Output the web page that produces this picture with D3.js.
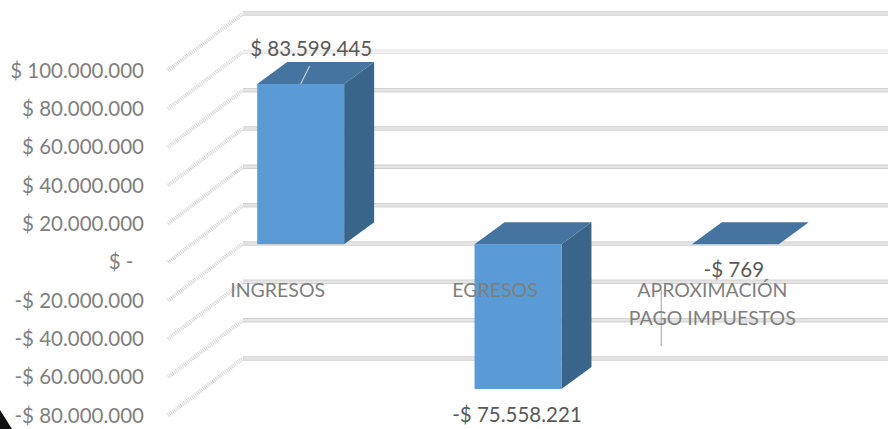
<!DOCTYPE html>
<html>
<head>
<meta charset="utf-8">
<script src="https://cdn.jsdelivr.net/npm/d3@7"></script>
<style>
    html, body { margin: 0; padding: 0; background: #fff; overflow: hidden; }
    text { font-family: Lato, "Open Sans", sans-serif; white-space: pre; }
</style>
</head>
<body>
<div class="chart"></div>
<script>
const width = 888;
const height = 429;

// Values
const categories = ["INGRESOS", "EGRESOS", "APROXIMACIÓN PAGO IMPUESTOS"];
const categoryLines = [["INGRESOS"], ["EGRESOS"], ["APROXIMACIÓN", "PAGO IMPUESTOS"]];
const values = [83599445, -75558221, -769];
const valueLabels = ["$ 83.599.445", "-$ 75.558.221", "-$ 769"];
const tickValues = [100000000, 80000000, 60000000, 40000000, 20000000, 0, -20000000, -40000000, -60000000, -80000000];
const tickLabels = ["$ 100.000.000", "$ 80.000.000", "$ 60.000.000", "$ 40.000.000", "$ 20.000.000", "$ -  ",
    "-$ 20.000.000", "-$ 40.000.000", "-$ 60.000.000", "-$ 80.000.000"];

// Fake 3D: the scale maps onto the back wall, everything else is shifted from there
const wallLeft = 243;
const floorDx = -75;
const floorDy = 57;
const barFrontDy = 39;
const barDepthX = 30;
const barDepthY = 22;

const svg = d3.select(".chart").append("svg")
    .attr("width", width)
    .attr("height", height)
    .style("display", "block");

// Scales
const yScale = d3.scaleLinear()
    .domain([-80000000, 100000000])
    .range([358.5, 13.5]);

const xScale = d3.scaleBand()
    .domain(categories)
    .range([192, 844])
    .paddingInner(0.6)
    .paddingOuter(0.3);

// Gridlines on the wall
const grid = svg.append("g");
grid.selectAll("line.grid-edge")
    .data(tickValues)
    .enter()
    .append("line")
    .attr("class", "grid-edge")
    .attr("x1", wallLeft)
    .attr("x2", width)
    .attr("y1", d => yScale(d))
    .attr("y2", d => yScale(d))
    .attr("stroke", (d, i) => i === 1 ? "#e6e6e6" : "#d2d2d2")
    .attr("stroke-width", 4.5);

grid.selectAll("line.grid-core")
    .data(tickValues)
    .enter()
    .append("line")
    .attr("class", "grid-core")
    .attr("x1", wallLeft)
    .attr("x2", width)
    .attr("y1", d => yScale(d))
    .attr("y2", d => yScale(d))
    .attr("stroke", (d, i) => i === 1 ? "#f0f0f0" : "#e4e4e4")
    .attr("stroke-width", 2.5);

// Dotted diagonals on the side wall
grid.selectAll("line.side")
    .data(tickValues)
    .enter()
    .append("line")
    .attr("class", "side")
    .attr("x1", wallLeft + floorDx)
    .attr("x2", wallLeft)
    .attr("y1", d => yScale(d) + floorDy)
    .attr("y2", d => yScale(d))
    .attr("stroke", "#d6d6d6")
    .attr("stroke-width", 4)
    .attr("stroke-dasharray", "1 1");

// Y axis, ticks sit on the front edge of the floor
const yAxis = d3.axisLeft(yScale)
    .tickValues(tickValues)
    .tickSize(0)
    .tickPadding(0)
    .tickFormat((d, i) => tickLabels[i]);

const axisGroup = svg.append("g")
    .attr("transform", `translate(144, ${floorDy})`)
    .call(yAxis);
axisGroup.select(".domain").remove();
axisGroup.selectAll("text")
    .attr("fill", "#7f7f7f")
    .style("font-family", "Lato, 'Open Sans', sans-serif")
    .style("font-size", "20.5px");

// Bars: front, top and side faces
const barTop = d => yScale(Math.max(d.value, 0)) + barFrontDy;
const barBottom = d => yScale(Math.min(d.value, 0)) + barFrontDy;
const barLeft = d => xScale(d.category);
const barRight = d => xScale(d.category) + xScale.bandwidth();

const barData = categories.map((c, i) => ({ category: c, value: values[i] }));
const bars = svg.append("g").selectAll("g")
    .data(barData)
    .enter()
    .append("g");

bars.append("path")
    .attr("d", d => {
        const p = d3.path();
        p.moveTo(barRight(d), barTop(d));
        p.lineTo(barRight(d) + barDepthX, barTop(d) - barDepthY);
        p.lineTo(barRight(d) + barDepthX, barBottom(d) - barDepthY);
        p.lineTo(barRight(d), barBottom(d));
        p.closePath();
        return p.toString();
    })
    .attr("fill", "#39658a");

bars.append("path")
    .attr("d", d => {
        const p = d3.path();
        p.moveTo(barLeft(d), barTop(d));
        p.lineTo(barLeft(d) + barDepthX, barTop(d) - barDepthY);
        p.lineTo(barRight(d) + barDepthX, barTop(d) - barDepthY);
        p.lineTo(barRight(d), barTop(d));
        p.closePath();
        return p.toString();
    })
    .attr("fill", "#44749f");

bars.append("rect")
    .attr("x", barLeft)
    .attr("y", barTop)
    .attr("width", xScale.bandwidth())
    .attr("height", d => barBottom(d) - barTop(d))
    .attr("fill", "#5b9bd5");

// Leader lines
const leaderColor = "#bdbdbd";
const bandCenter = i => xScale(categories[i]) + xScale.bandwidth() / 2;

svg.append("line")
    .attr("x1", bandCenter(0))
    .attr("y1", yScale(values[0]) + barFrontDy)
    .attr("x2", bandCenter(0) + 9)
    .attr("y2", yScale(values[0]) + barFrontDy - 18)
    .attr("stroke", "#c4ccd4")
    .attr("stroke-width", 1.2);

svg.append("line")
    .attr("x1", bandCenter(2) - 74)
    .attr("x2", bandCenter(2) - 74)
    .attr("y1", 290)
    .attr("y2", 346)
    .attr("stroke", leaderColor)
    .attr("stroke-width", 1.5);

// Category labels
const categoryLabels = svg.append("g").selectAll("text")
    .data(categoryLines)
    .enter()
    .append("text")
    .attr("text-anchor", "middle")
    .attr("fill", "#7f7f7f")
    .style("font-size", "19.5px");

categoryLabels.selectAll("tspan")
    .data((d, i) => d.map(line => ({ line, i })))
    .enter()
    .append("tspan")
    .attr("x", d => bandCenter(d.i) - 23)
    .attr("y", (d, j) => 297 + j * 28)
    .text(d => d.line);

// Value labels
const labelOffsets = [[10.5, 56], [-1, 422], [-1.5, 277]];
svg.append("g").selectAll("text")
    .data(valueLabels)
    .enter()
    .append("text")
    .attr("x", (d, i) => bandCenter(i) + labelOffsets[i][0])
    .attr("y", (d, i) => labelOffsets[i][1])
    .attr("text-anchor", "middle")
    .attr("fill", "#595959")
    .style("font-size", "20.5px")
    .text(d => d);

// Black corner cut off in the original screenshot
svg.append("path")
    .attr("d", "M0,410L12,429L0,429Z")
    .attr("fill", "#111");
</script>
</body>
</html>
